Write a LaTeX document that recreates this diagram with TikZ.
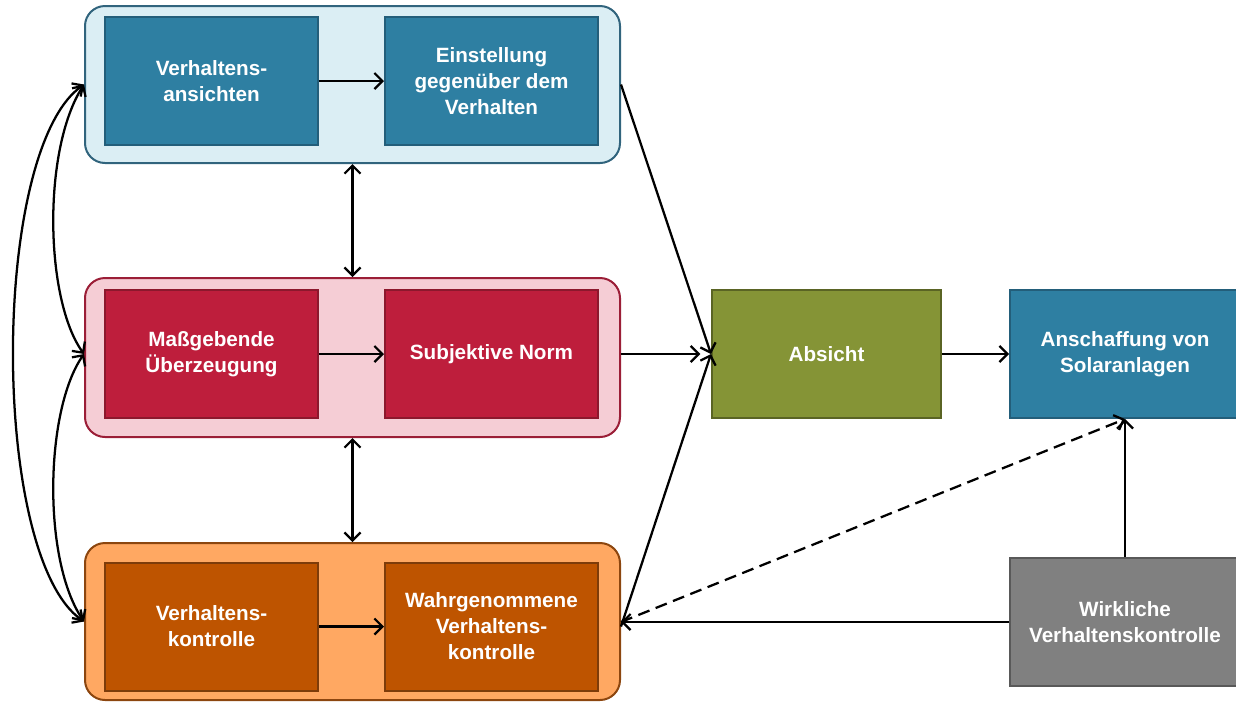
\documentclass[tikz,border=0pt]{standalone}
\usepackage{fontspec}
\setmainfont{Liberation Sans}
\usetikzlibrary{arrows.meta}
\definecolor{bluefill}{RGB}{46,127,162}
\definecolor{blueline}{RGB}{35,94,122}
\definecolor{gblue}{RGB}{219,238,244}
\definecolor{gblueline}{RGB}{49,100,125}
\definecolor{redfill}{RGB}{190,30,60}
\definecolor{redline}{RGB}{140,24,45}
\definecolor{gred}{RGB}{245,205,213}
\definecolor{gredline}{RGB}{155,30,55}
\definecolor{orfill}{RGB}{190,84,0}
\definecolor{orline}{RGB}{125,60,10}
\definecolor{gor}{RGB}{255,168,98}
\definecolor{gorline}{RGB}{140,70,15}
\definecolor{olfill}{RGB}{133,148,54}
\definecolor{olline}{RGB}{90,100,36}
\definecolor{grfill}{RGB}{128,128,128}
\definecolor{grline}{RGB}{89,89,89}
\begin{document}
\begin{tikzpicture}[x=0.75pt,y=-0.75pt,
  group/.style={draw, line width=1.5pt, rounded corners=15pt, minimum width=401.25pt, inner sep=0pt},
  box/.style={draw, line width=1.5pt, minimum width=159.75pt, minimum height=96pt, inner sep=0pt,
    text=white, align=center, font=\bfseries\fontsize{15.5}{19.5}\selectfont},
  arr/.style={-{Straight Barb[length=6pt,width=12pt]}, line width=1.7pt},
  darr/.style={{Straight Barb[length=6pt,width=12pt]}-{Straight Barb[length=6pt,width=12pt]}, line width=1.7pt}
]
\useasboundingbox (0,0) rectangle (1236,701);
% groups
\node[group, fill=gblue, draw=gblueline, minimum height=117.75pt] (gt) at (352.5,84.5) {};
\node[group, fill=gred, draw=gredline, minimum height=119.25pt] (gm) at (352.5,357.5) {};
\node[group, fill=gor, draw=gorline, minimum height=117.75pt] (gb) at (352.5,621.5) {};
% inner boxes
\node[box, fill=bluefill, draw=blueline] (va) at (211.5,81) {Verhaltens-\\ansichten};
\node[box, fill=bluefill, draw=blueline] (es) at (491.5,81) {Einstellung\\gegenüber dem\\Verhalten};
\node[box, fill=redfill, draw=redline] (mu) at (211.5,354) {Maßgebende\\Überzeugung};
\node[box, fill=redfill, draw=redline] (sn) at (491.5,354) {Subjektive Norm};
\node[box, fill=orfill, draw=orline] (vk) at (211.5,626.5) {Verhaltens-\\kontrolle};
\node[box, fill=orfill, draw=orline] (wv) at (491.5,626.5) {Wahrgenommene\\Verhaltens-\\kontrolle};
\node[box, fill=olfill, draw=olline, minimum width=171.75pt] (ab) at (826.5,354) {Absicht};
\node[box, fill=bluefill, draw=blueline, minimum width=172.5pt] (an) at (1125,354) {Anschaffung von\\Solaranlagen};
\node[box, fill=grfill, draw=grline, minimum width=172.5pt] (wk) at (1125,622) {Wirkliche\\Verhaltenskontrolle};
% arrows inside groups
\draw[arr] (va.east) -- (es.west);
\draw[arr] (mu.east) -- (sn.west);
\draw[arr] (vk.east) -- (wv.west);
% vertical double arrows
\draw[darr] (gt.south) -- (gm.north);
\draw[darr] (gm.south) -- (gb.north);
% to Absicht
\draw[arr] (gt.east) -- (ab.west);
\draw[arr, shorten >=8pt] (gm.east |- sn) -- (ab.west |- sn);
\draw[arr] (gb.east |- vk) -- (ab.west);
\draw[arr] (ab.east) -- (an.west);
% real control
\draw[arr] (wk.north) -- (an.south);
\draw[arr] (wk.west) -- (gb.east |- wk.west);
\draw[arr, dashed, dash pattern=on 9pt off 5pt] (gb.east |- wk.west) -- (an.south);
% left curves
\draw[darr] (gt.west) .. controls (-10,150) and (-10,557) .. (gb.west);
\draw[darr] (gt.west) .. controls (42,150) and (45,300) .. (gm.west |- mu);
\draw[darr] (gm.west |- mu) .. controls (45,410) and (42,560) .. (gb.west);
\end{tikzpicture}
\end{document}
